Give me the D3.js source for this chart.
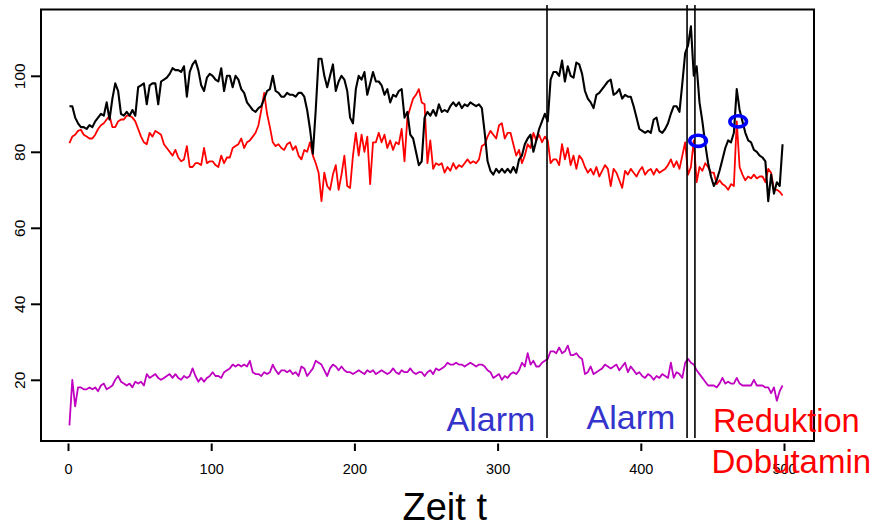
<!DOCTYPE html>
<html>
<head>
<meta charset="utf-8">
<script src="https://cdn.jsdelivr.net/npm/d3@7"></script>
<style>
  body { margin: 0; background: #fff; }
  svg { display: block; font-family: "Liberation Sans", Arial, sans-serif; }
</style>
</head>
<body>
<div id="chart"></div>
<script>
// data: one reading every 2 time steps, t = 1, 3, 5, ... 499

let black = [
  92, 92, 89, 87.5, 86.5, 86.5, 86, 87, 86.5, 88,
  89, 90, 89.5, 93, 88.5, 94, 98, 96, 90, 89.5,
  90.5, 89.5, 91, 89.5, 97, 97.5, 98, 92.5, 97.5, 98,
  98, 92.5, 98.5, 99, 99.5, 100.5, 102, 101.5, 101.5, 101,
  102.5, 94.5, 101, 103, 104, 101.5, 97.5, 96, 99.5, 100.5,
  100, 99, 98.5, 102, 96, 100, 100, 97, 100, 99,
  96.5, 95.5, 93, 92, 91, 90.5, 91.5, 92, 94, 96,
  96.5, 100, 96, 95.5, 94.5, 94.5, 95.5, 95, 95, 94.5,
  95.5, 95.5, 94.5, 91, 86, 79.5, 91, 104.5, 104.5, 100,
  97, 100, 103, 96, 98.5, 100, 99, 96, 89, 87.5,
  96.5, 100, 99, 101, 95, 98, 101, 98.5, 98.5, 97.5,
  95, 96.5, 93, 95, 94.5, 96, 96.5, 89, 90.5, 84.5,
  83.5, 80, 76.5, 77.5, 89, 90.5, 89.5, 91, 89.5, 92.5,
  90.5, 91, 90.5, 92, 93, 92, 93, 91.5, 92.5, 92,
  93, 92.5, 92, 92.5, 91.5, 85, 77.5, 75, 74, 75.5,
  74.5, 75.5, 74.5, 75.5, 74.5, 76, 74.5, 78, 79, 82,
  83.5, 84.5, 80, 83, 86, 88, 90, 88, 99, 101,
  101, 100, 104, 98.5, 102.5, 100, 99.5, 103.5, 103, 100.5,
  96, 94, 93, 91.5, 95, 95.5, 96.5, 97.5, 98.5, 99,
  95, 95.5, 96.5, 94, 95, 94.5, 94.5, 92, 89, 86,
  85.5, 85, 85.5, 85, 88.5, 89, 85.5, 85, 86, 87.5,
  90, 92, 92, 90.5, 98, 106, 108, 113, 100, 102.5,
  93, 88, 82, 77, 73.5, 71, 72.5, 75, 78, 81,
  83, 82.5, 85, 96.5, 91, 88, 85, 83, 82.5, 80.5,
  80, 79, 78.5, 77.5, 67, 74, 69, 72, 71, 82
];

let red = [
  82.3, 84, 84.5, 85.5, 85.8, 84.5, 84, 83.5, 83.5, 84.5,
  86, 87, 87.5, 88.5, 89.5, 86.5, 86.5, 88, 88.5, 88.5,
  89.5, 89.5, 89, 88, 86, 84, 82.5, 82, 85, 84,
  85.5, 85, 84.5, 82, 81, 80, 79, 80.5, 78.5, 77.5,
  78, 81.5, 76, 76, 77, 77, 76.5, 81, 77, 77.5,
  77.5, 76.5, 76, 79, 77, 78.5, 78.5, 81, 81.5, 82,
  83.5, 81, 82.5, 83, 84, 85, 87, 91, 95.5, 90,
  86.5, 82.5, 81.5, 82, 81, 80.5, 82, 82.5, 80.5, 81.5,
  79, 78, 80.5, 80, 82.5, 79, 77, 74.5, 67, 74.5,
  71, 70, 74, 76.5, 70, 74, 79, 71, 70.5, 79,
  85, 79, 84.5, 80, 84, 71.5, 82.5, 82.5, 85, 82.5,
  84.5, 81, 83, 80.5, 82.5, 82, 86, 77.5, 89, 91.5,
  94, 95, 96.5, 93, 92.5, 77, 83, 75.5, 77, 76.5,
  77, 74.5, 76, 75, 77, 75.5, 76.5, 76, 77, 78,
  77, 77.5, 77, 78, 81.5, 82, 84, 85.5, 84.5, 83.5,
  87, 87.5, 83.5, 85, 85, 82, 79, 80.5, 77, 79,
  82, 81, 85, 83, 84.5, 82.5, 84, 83, 77, 78,
  78, 76.5, 82, 78, 81, 76.5, 79, 75.5, 79, 78,
  76, 74.5, 75.5, 74, 76, 73.5, 75, 76.5, 75.5, 71,
  75.5, 74.5, 72.5, 70.5, 75, 74, 75.5, 74.5, 73.5, 75,
  76, 74, 75, 75.5, 74, 75.5, 74.5, 75, 75.5, 76.5,
  78, 76, 77.5, 75.5, 79, 82.5, 74, 76, 83, 72,
  76, 75, 77, 76, 74.5, 74.5, 71.5, 72.5, 71.5, 71,
  70, 71.5, 71, 88, 76, 74, 72.5, 73.5, 73, 74,
  73, 73.5, 73.5, 72, 75.5, 74.5, 70, 70, 69.5, 68.5
];

let magenta = [
  8, 20, 13, 18, 18, 17.5, 17.5, 18, 17.5, 18,
  17, 18.5, 19, 17.5, 18, 18.5, 20, 21, 19.5, 19,
  18.5, 19, 18, 19.5, 19, 19.5, 18.5, 21.5, 20.5, 21,
  21.5, 20.5, 20, 20.5, 21, 21.5, 20.5, 21.5, 20.5, 20,
  21, 20.5, 21, 23, 21, 19.5, 20.5, 19.5, 20.5, 21,
  22, 21, 21, 20.5, 22, 22.5, 23, 24, 23.5, 24,
  23.5, 24, 23.5, 25, 22, 21.5, 21.5, 21, 22, 21.5,
  22, 24, 22.5, 21.5, 22.5, 22.5, 22, 22.5, 21.5, 22,
  21, 23.5, 23, 21, 22, 23, 25, 24.5, 24, 22.5,
  21, 23, 24, 23.5, 22.5, 23.5, 22.5, 22, 22, 21.5,
  22, 22.5, 22, 21.5, 22.5, 22, 22.5, 21.5, 22, 22.5,
  22, 21.5, 22, 23, 22, 21.5, 22.5, 22, 22, 23,
  22, 21.5, 22, 22, 21, 22, 22.5, 21.5, 23, 22.5,
  23, 23.5, 24.5, 24, 24, 24.5, 24, 24, 23.5, 24,
  24.5, 24, 23.5, 24, 24, 23.5, 22.5, 22, 20.5, 21,
  21.5, 20, 21, 20.5, 21.5, 22, 21.5, 22.5, 24.5, 23.5,
  27, 24, 25, 23.5, 23.5, 24.5, 25, 25.5, 27.5, 27.5,
  27, 28.5, 27, 27.5, 29, 26.5, 26.5, 27, 26, 25.5,
  21.5, 22, 23.5, 21.5, 22, 22.5, 23, 24, 23.5, 23,
  23.5, 24, 22.5, 23.5, 24.5, 22, 23.5, 22.5, 21.5, 22,
  21, 20.5, 21.5, 21, 20, 21, 20.5, 21.5, 21, 20.5,
  24.5, 20.5, 22, 21.5, 20.5, 24.5, 25.5, 24.5, 24, 22.5,
  21.5, 20.5, 19.5, 18.5, 18.5, 18.5, 18, 19, 20.5, 19,
  19.5, 19, 19, 20.5, 19, 18.5, 18.5, 18.5, 18.5, 20,
  18.5, 18.5, 18.5, 18, 18, 16.5, 18, 14.5, 17, 18.5
];

let times = d3.range(1, 500, 2);

let xTicks = [0, 100, 200, 300, 400, 500];
let yTicks = [20, 40, 60, 80, 100];

// vertical event lines and the two circled points
let eventTimes = [334.5, 432.3, 437.8];
let markT = [440, 468];
let markV = [82.9, 88];

// step 1 the svg and scales
let width = 874, height = 526;

let svg = d3.select("#chart")
    .append("svg")
    .attr("width", width)
    .attr("height", height);

let x = d3.scaleLinear().domain([0, 500]).range([68, 784]);
let y = d3.scaleLinear().domain([20, 100]).range([379.8, 75.8]);

let box = {left: 41, top: 9.5, right: 814, bottom: 441};

// step 2 axes
let xAxis = svg.append("g")
    .attr("transform", "translate(0," + (box.bottom + 2.5) + ")")
    .call(d3.axisBottom(x).tickValues(xTicks).tickSizeInner(7.5).tickSizeOuter(0).tickPadding(12.5));
xAxis.select(".domain").remove();
xAxis.selectAll("line").attr("stroke", "#000").attr("stroke-width", 2);
xAxis.selectAll("text").attr("font-size", "14.5px").attr("fill", "#000")
    .attr("font-family", "Liberation Sans, Arial, sans-serif");

let yAxis = svg.append("g")
    .attr("transform", "translate(" + box.left + ",0)")
    .call(d3.axisLeft(y).tickValues(yTicks).tickSizeInner(10).tickSizeOuter(0));
yAxis.select(".domain").remove();
yAxis.selectAll("line").attr("stroke", "#000").attr("stroke-width", 2);
yAxis.selectAll("text")
    .attr("transform", "rotate(-90)")
    .attr("x", 0)
    .attr("y", -16)
    .attr("dy", 0)
    .attr("text-anchor", "middle")
    .attr("font-size", "15.5px")
    .attr("fill", "#000")
    .attr("font-family", "Liberation Sans, Arial, sans-serif");

// step 3 lines
let line = d3.line()
    .x((d, i) => x(times[i]))
    .y(d => y(d));

function drawSeries(values, color, w) {
    svg.append("path")
        .datum(values)
        .attr("fill", "none")
        .attr("stroke", color)
        .attr("stroke-width", w)
        .attr("stroke-linejoin", "round")
        .attr("d", line);
}

drawSeries(magenta, "#c000c0", 1.8);
drawSeries(red, "#ff0000", 1.8);
drawSeries(black, "#000000", 2.1);

// plot frame
svg.append("rect")
    .attr("x", box.left)
    .attr("y", box.top)
    .attr("width", box.right - box.left)
    .attr("height", box.bottom - box.top)
    .attr("fill", "none")
    .attr("stroke", "#000")
    .attr("stroke-width", 2);

// step 4 event lines
svg.selectAll(".event")
    .data(eventTimes)
    .enter()
    .append("line")
    .attr("class", "event")
    .attr("x1", d => x(d))
    .attr("x2", d => x(d))
    .attr("y1", 5)
    .attr("y2", 438)
    .attr("stroke", "#000")
    .attr("stroke-width", 1.6);

svg.selectAll(".mark")
    .data(markT)
    .enter()
    .append("ellipse")
    .attr("class", "mark")
    .attr("cx", d => x(d))
    .attr("cy", (d, i) => y(markV[i]))
    .attr("rx", 8.3)
    .attr("ry", 5.6)
    .attr("fill", "none")
    .attr("stroke", "#0000ff")
    .attr("stroke-width", 3.6);

// step 5 annotations
let notes = [
    {text: "Alarm", x: 446.5, y: 430.7, size: 34, color: "#3434cc"},
    {text: "Alarm", x: 586.5, y: 429.3, size: 34, color: "#3434cc"},
    {text: "Reduktion", x: 713, y: 431.7, size: 32.6, color: "#ff0000"},
    {text: "Dobutamin", x: 711.5, y: 472.7, size: 33, color: "#ff0000"},
    {text: "Zeit t", x: 402.5, y: 519.5, size: 38, color: "#000000"}
];

svg.selectAll(".note")
    .data(notes)
    .enter()
    .append("text")
    .attr("class", "note")
    .attr("x", d => d.x)
    .attr("y", d => d.y)
    .attr("font-size", d => d.size + "px")
    .attr("fill", d => d.color)
    .text(d => d.text);
</script>
</body>
</html>
